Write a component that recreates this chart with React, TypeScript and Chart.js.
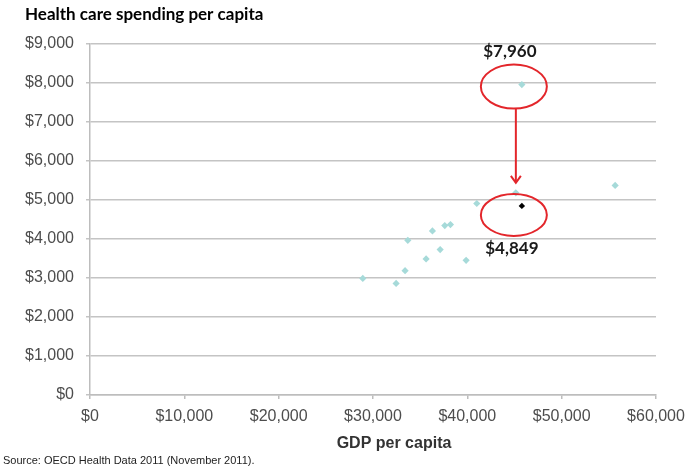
import React, { useEffect, useRef } from "react";
import { Chart, registerables } from "chart.js";

Chart.register(...registerables);

// OECD comparison countries: GDP per capita vs health care spending per capita
const gdpPerCapita = [28920, 32450, 33400, 33690, 35630, 36300, 37120, 37610, 38210, 39870, 41000, 45140, 55670];
const healthSpending = [2990, 2862, 3188, 3967, 3488, 4208, 3728, 4344, 4370, 3452, 4910, 5185, 5373];

// United States: actual and adjusted
const usGdp = 45780;
const usSpending = 7960;
const usAdjusted = 4849;

const xTicks = [0, 10000, 20000, 30000, 40000, 50000, 60000];
const yTicks = [0, 1000, 2000, 3000, 4000, 5000, 6000, 7000, 8000, 9000];

const titleText = "Health care spending per capita";
const xTitleText = "GDP per capita";
const sourceText = "Source: OECD Health Data 2011 (November 2011).";

const fmt = (v: number) => "$" + Math.round(v).toLocaleString("en-US");

const annotations = {
  id: "annotations",
  afterDatasetsDraw(chart: any) {
    const { ctx, scales } = chart;
    const x = scales.x;
    const y = scales.y;
    const ux = x.getPixelForValue(usGdp);
    const uy = y.getPixelForValue(usSpending);
    const ay = y.getPixelForValue(usAdjusted);
    ctx.save();
    ctx.strokeStyle = "#e3262b";
    ctx.lineWidth = 2;
    ctx.beginPath();
    ctx.ellipse(ux - 8, uy + 2, 33, 22, 0, 0, Math.PI * 2);
    ctx.stroke();
    ctx.beginPath();
    ctx.ellipse(ux - 8, ay + 9, 33, 21, 0, 0, Math.PI * 2);
    ctx.stroke();
    const arX = ux - 6;
    const arTop = uy + 24;
    const arBot = ay - 23;
    ctx.beginPath();
    ctx.moveTo(arX, arTop);
    ctx.lineTo(arX, arBot);
    ctx.stroke();
    ctx.beginPath();
    ctx.moveTo(arX - 5, arBot - 7);
    ctx.lineTo(arX, arBot);
    ctx.lineTo(arX + 5, arBot - 7);
    ctx.stroke();

    ctx.fillStyle = "#1a1a1a";
    ctx.font = "bold 17px Lato";
    ctx.textAlign = "center";
    ctx.textBaseline = "middle";
    ctx.fillText(fmt(usSpending), ux - 12, uy - 33);
    ctx.fillText(fmt(usAdjusted), ux - 10, ay + 43);
    ctx.restore();
  },
  afterDraw(chart: any) {
    const { ctx } = chart;
    ctx.save();
    ctx.fillStyle = "#000000";
    ctx.textBaseline = "middle";
    ctx.textAlign = "left";
    ctx.font = "bold 17px Lato";
    ctx.fillText(titleText, 25, 15);
    ctx.fillStyle = "#333333";
    ctx.font = "bold 16px 'Liberation Sans'";
    ctx.textAlign = "center";
    ctx.fillText(xTitleText, 394, 444);
    ctx.font = "11px 'Liberation Sans'";
    ctx.textAlign = "left";
    ctx.fillStyle = "#222222";
    ctx.fillText(sourceText, 3, 461);
    ctx.restore();
  },
};

export default function App() {
  const ref = useRef<HTMLCanvasElement | null>(null);
  useEffect(() => {
    if (!ref.current) return;
    const chart = new Chart(ref.current, {
      type: "scatter",
      data: {
        datasets: [
          {
            label: "OECD",
            data: gdpPerCapita.map((g, i) => ({ x: g, y: healthSpending[i] })),
            pointStyle: "rectRot",
            pointRadius: 3.6,
            backgroundColor: "#a6dad9",
            borderWidth: 0,
          },
          {
            label: "US",
            data: [{ x: usGdp, y: usSpending }],
            pointStyle: "rectRot",
            pointRadius: 3.6,
            backgroundColor: "#a6dad9",
            borderWidth: 0,
          },
          {
            label: "US adjusted",
            data: [{ x: usGdp, y: usAdjusted }],
            pointStyle: "rectRot",
            pointRadius: 3.2,
            backgroundColor: "#000000",
            borderWidth: 0,
          },
        ],
      },
      plugins: [annotations],
      options: {
        responsive: false,
        animation: false,
        layout: { padding: { top: 44, right: 39, bottom: 0, left: 0 } },
        plugins: {
          legend: { display: false },
          tooltip: { enabled: false },
          title: { display: false },
        },
        scales: {
          x: {
            type: "linear",
            min: xTicks[0],
            max: xTicks[xTicks.length - 1],
            afterBuildTicks: (s: any) => {
              s.ticks = xTicks.map((v) => ({ value: v }));
            },
            afterFit: (s: any) => {
              s.height = 71;
            },
            ticks: {
              callback: (v: any) => fmt(Number(v)),
              font: { family: "'Liberation Sans'", size: 16 },
              color: "#4d4d4d",
              padding: 8,
              maxRotation: 0,
              autoSkip: false,
            },
            grid: { drawOnChartArea: false, drawTicks: true, tickLength: 4, color: "#bdbdbd", lineWidth: 1.5 },
            border: { color: "#bdbdbd", width: 1.5 },
          },
          y: {
            type: "linear",
            min: yTicks[0],
            max: yTicks[yTicks.length - 1],
            afterBuildTicks: (s: any) => {
              s.ticks = yTicks.map((v) => ({ value: v }));
            },
            afterFit: (s: any) => {
              s.width = 90;
            },
            ticks: {
              callback: (v: any) => fmt(Number(v)),
              font: { family: "'Liberation Sans'", size: 16 },
              color: "#4d4d4d",
              padding: 12,
              autoSkip: false,
            },
            grid: { color: "#c4c4c4", lineWidth: 1.5, tickLength: 4 },
            border: { color: "#bdbdbd", width: 1.5 },
          },
        },
      },
    });
    return () => chart.destroy();
  }, []);
  return (
    <div style={{ position: "fixed", left: 0, top: 0, width: 695, height: 466, background: "#ffffff" }}>
      <canvas ref={ref} width={695} height={466} style={{ display: "block" }} />
    </div>
  );
}
